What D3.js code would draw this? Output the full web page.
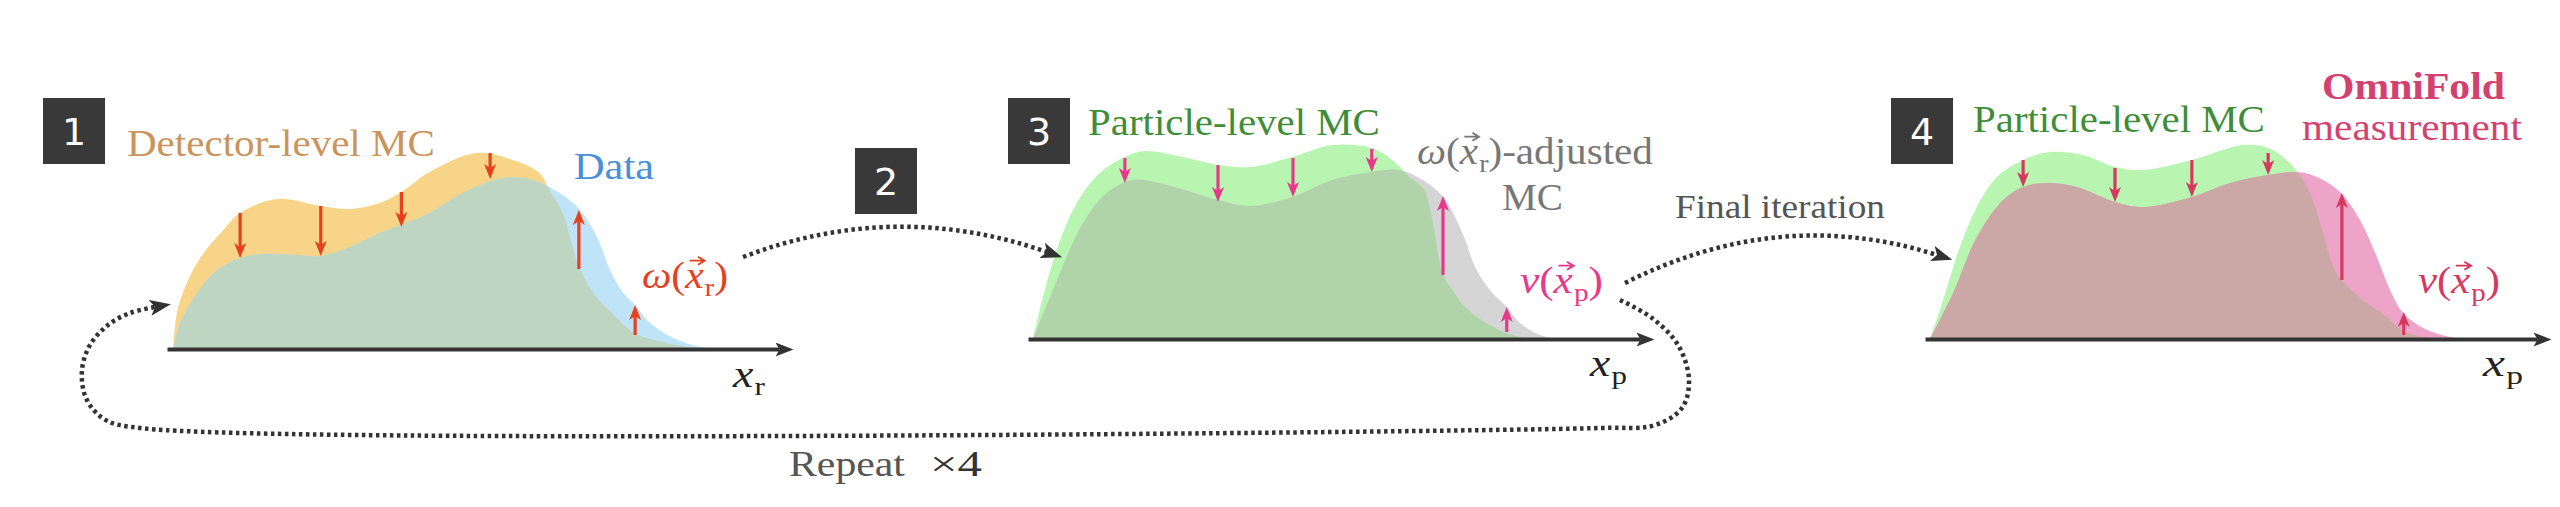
<!DOCTYPE html>
<html><head><meta charset="utf-8">
<script src="https://cdn.jsdelivr.net/npm/d3@7"></script>
<style>html,body{margin:0;padding:0;background:#fff;}svg{display:block;background:#fff}</style>
</head><body>
<svg id="c" width="2560" height="507"></svg>
<script>
// ---------------- DATA (x: 0..100 along each axis, y: 0..100 height) ----------------
// Panel 1: detector level
const detMcX   = [1.0, 1.8, 4.8, 9.0, 11.7, 17.6, 24.6, 29.2, 34.0, 37.5, 42.0, 49.5, 55.3, 59.6, 61.2, 63.3, 64.6, 65.8, 68.1, 71.2, 74.8, 79.9, 85.0];
const detMcY   = [0, 21, 43, 59.5, 68, 75, 71.5, 70, 73, 78.5, 88.5, 98, 94.5, 88, 79.5, 68, 54.5, 42, 28.5, 18, 8, 3, 0];
const dataX    = [1.0, 2.1, 4.8, 8.0, 11.7, 15.3, 20.8, 24.6, 29.2, 34.0, 37.5, 42.0, 47.3, 53.7, 58.5, 62.8, 66.1, 68.8, 70.9, 73.0, 74.9, 77.3, 81.0, 85.3, 88.5];
const dataY    = [0, 13, 28, 39.5, 45.5, 47.5, 47, 46.5, 51, 58, 62, 68, 78, 85.5, 84.5, 78, 69.5, 56, 39.5, 28, 22, 13, 5.5, 1, 0];
const omegaArrowX    = [11.7, 24.6, 37.5, 51.7, 65.9, 74.9];
const omegaArrowFrom = [68, 71.5, 78.5, 98, 40, 7];
const omegaArrowTo   = [45.5, 46.5, 61, 85, 69.5, 22];

// Panel 3: particle level, omega-adjusted
const partMcX  = [0.8, 2.4, 4.6, 7.8, 11.5, 15.5, 18.7, 24.8, 30.4, 35.5, 42.3, 48.7, 55.0, 58.3, 61.0, 63.4, 64.7, 66.3, 67.9, 70.1, 73.0, 76.5, 80.2];
const partMcY  = [0, 21, 44.5, 68, 83, 91, 94, 91, 87, 86, 91, 97, 95.5, 89.5, 81, 74.5, 59.5, 33, 24.5, 15.5, 8.5, 3, 0];
const adjMcX   = [0.8, 4.0, 8.8, 12.6, 16.8, 22.2, 30.4, 35.5, 42.3, 48.7, 55.0, 59.4, 62.6, 66.3, 69.5, 71.7, 74.3, 76.6, 78.7, 81.9, 84.6];
const adjMcY   = [0, 24.5, 58, 73, 79.5, 77, 69.5, 66.5, 71, 79.5, 83.5, 84.5, 80.5, 71.5, 53, 35, 23, 16, 8, 2, 0];
const nuArrowX    = [15.5, 30.4, 42.4, 55.0, 66.4, 76.6];
const nuArrowFrom = [90.5, 87, 90.5, 95, 32, 3.5];
const nuArrowTo   = [78, 68.5, 71, 83.5, 71.5, 16];

// Panel 4: particle level, final measurement
const partMc4X = [0.8, 2.9, 5.6, 8.3, 11.5, 15.7, 20.0, 25.3, 30.4, 34.9, 42.7, 50.9, 54.9, 57.9, 59.7, 61.6, 63.7, 65.3, 66.9, 70.1, 73.9, 76.5, 79.7, 82.4];
const partMc4Y = [0, 19.5, 46, 66, 81, 89.5, 93.5, 92, 86, 84.5, 89.5, 97, 95.5, 89.5, 83, 73, 53, 36, 28.5, 19.5, 11, 4, 1, 0];
const measX    = [0.8, 4.5, 8.3, 12.5, 15.7, 19.5, 24.3, 30.4, 34.9, 42.7, 48.8, 54.9, 59.5, 62.7, 66.4, 69.6, 72.3, 74.4, 76.5, 79.7, 84.0, 86.4];
const measY    = [0, 23, 51, 69.5, 76, 78, 76, 68.5, 66, 71, 78, 82, 83.5, 81, 73.5, 59.5, 41, 24.5, 13, 5.5, 1, 0];
const finalArrowX    = [15.7, 30.4, 42.7, 54.9, 66.7, 76.6];
const finalArrowFrom = [89.5, 85.5, 89.5, 93, 29.5, 2];
const finalArrowTo   = [76, 68.5, 71, 82, 73, 13.5];

// Text
const stepLabels = ['1', '2', '3', '4'];
const txtDetMC = 'Detector-level MC', txtData = 'Data', txtPartMC = 'Particle-level MC';
const txtFinal = 'Final iteration', txtRepeat = 'Repeat', txtTimes = '\u00d74';
const txtOmni = 'OmniFold', txtMeas = 'measurement';

// ---------------- DRAWING ----------------
const SERIF = '"Liberation Serif"';
const SANS = '"DejaVu Sans"';
const svg = d3.select('#c');
const defs = svg.append('defs');

function headMarker(id, color, len, half, notch) {
  defs.append('marker').attr('id', id).attr('markerUnits', 'userSpaceOnUse')
    .attr('viewBox', `0 ${-half} ${len} ${2 * half}`).attr('markerWidth', len).attr('markerHeight', 2 * half)
    .attr('refX', notch).attr('refY', 0).attr('orient', 'auto')
    .append('path').attr('d', `M0,${-half}L${len},0L0,${half}L${notch},0Z`).attr('fill', color);
}
headMarker('axHead', '#333', 18, 7, 4);
headMarker('dotHead', '#333', 21, 8, 5);

const smooth = d3.curveCatmullRom.alpha(0.5);

function panel(cfg) {
  const x = d3.scaleLinear().domain([0, 100]).range([cfg.x0, cfg.x0 + 625]);
  const y = d3.scaleLinear().domain([0, 100]).range([cfg.base, cfg.base - 200]);
  const area = d3.area().x(d => x(d[0])).y0(y(0)).y1(d => y(d[1])).curve(smooth);
  const A = d3.zip(cfg.aX, cfg.aY), B = d3.zip(cfg.bX, cfg.bY);
  const g = svg.append('g');
  g.append('path').attr('d', area(A)).attr('fill', cfg.colA);
  g.append('path').attr('d', area(B)).attr('fill', cfg.colB);
  defs.append('clipPath').attr('id', cfg.id).append('path').attr('d', area(A));
  g.append('path').attr('d', area(B)).attr('fill', cfg.colAB).attr('clip-path', `url(#${cfg.id})`);
  cfg.arX.forEach((ax, i) => {
    const px = x(ax), y1 = y(cfg.arFrom[i]), y2 = y(cfg.arTo[i]);
    const dir = y2 > y1 ? 1 : -1;
    g.append('line').attr('x1', px).attr('x2', px).attr('y1', y1).attr('y2', y2 - dir * 9)
      .attr('stroke', cfg.arCol).attr('stroke-width', 3.2);
    g.append('path').attr('d', `M${px},${y2}L${px - 6},${y2 - dir * 15}L${px},${y2 - dir * 11}L${px + 6},${y2 - dir * 15}Z`)
      .attr('fill', cfg.arCol);
  });
  const axScale = d3.scaleLinear().domain([0, 100]).range([cfg.x0, cfg.x0 + 612]);
  const axG = g.append('g').attr('transform', `translate(0,${cfg.base})`)
    .call(d3.axisBottom(axScale).tickValues([]).tickSizeOuter(0));
  axG.select('.domain').attr('stroke', '#333').attr('stroke-width', 4).attr('marker-end', 'url(#axHead)');
  return { x, y };
}

panel({ id: 'c1', x0: 167, base: 349, aX: detMcX, aY: detMcY, bX: dataX, bY: dataY,
  colA: '#f8d488', colB: '#bfe4f7', colAB: '#bdd5c1', arX: omegaArrowX, arFrom: omegaArrowFrom, arTo: omegaArrowTo, arCol: '#e5401f' });
panel({ id: 'c3', x0: 1028, base: 339, aX: partMcX, aY: partMcY, bX: adjMcX, bY: adjMcY,
  colA: '#b8f5b0', colB: '#d5d5d5', colAB: '#b1d3a9', arX: nuArrowX, arFrom: nuArrowFrom, arTo: nuArrowTo, arCol: '#e8388b' });
panel({ id: 'c4', x0: 1925, base: 339, aX: partMc4X, aY: partMc4Y, bX: measX, bY: measY,
  colA: '#b8f5b0', colB: '#eea3c9', colAB: '#cba8a5', arX: finalArrowX, arFrom: finalArrowFrom, arTo: finalArrowTo, arCol: '#d6395f' });

const boxPos = [[43, 98], [855, 148], [1008, 98], [1891, 98]];
stepLabels.forEach((s, i) => {
  const [bx, by] = boxPos[i];
  svg.append('rect').attr('x', bx).attr('y', by).attr('width', 62).attr('height', 66).attr('fill', '#393939');
  svg.append('text').attr('x', bx + 31).attr('y', by + 47).attr('text-anchor', 'middle')
    .style('font-family', SANS).style('font-size', '38px').attr('fill', '#fff').text(s);
});

// text built from pieces, each measured; the whole group is scaled horizontally to the target width
function mathLabel(x, y, fill, parts, w, size, bold) {
  size = size || 38;
  const g = svg.append('g').attr('fill', fill);
  let cx = x;
  parts.forEach(p => {
    const fs = p.sub ? size * 0.68 : size;
    const t = g.append('text').attr('x', cx).attr('y', p.sub ? y + 8 : y)
      .style('font-family', SERIF).style('font-size', fs + 'px');
    if (p.it) t.style('font-style', 'italic');
    if (bold) t.style('font-weight', 'bold');
    t.text(p.t);
    const tw = t.node().getComputedTextLength();
    if (p.vec) {
      const yv = y - size * 0.72, x1 = cx + tw * 0.25, x2 = cx + tw * 1.05;
      g.append('path').attr('d', `M${x1},${yv}H${x2}M${x2 - 6},${yv - 4}L${x2},${yv}L${x2 - 6},${yv + 4}`)
        .attr('stroke', fill).attr('stroke-width', 1.8).attr('fill', 'none');
    }
    cx += tw + (p.k || 0);
  });
  const k = w / (cx - x);
  g.attr('transform', `translate(${x},0) scale(${k},1) translate(${-x},0)`);
}
function label(x, y, t, fill, w, size, bold) { mathLabel(x, y, fill, [{ t: t }], w, size, bold); }

label(127, 156, txtDetMC, '#c9955c', 308);
label(574, 179, txtData, '#4a8fd8', 80);
label(1088, 135, txtPartMC, '#3f8d38', 292);
label(1502, 210, 'MC', '#777', 61);
label(1973, 132, txtPartMC, '#3f8d38', 292);
label(2322, 99, txtOmni, '#d4416f', 183, 37, true);
label(2302, 140, txtMeas, '#d4416f', 220);
label(1675, 218, txtFinal, '#555', 210, 33);
label(789, 476, txtRepeat, '#555', 116, 36);
label(930, 476, txtTimes, '#333', 52, 36);

const omegaParts = [{ t: '\u03c9', it: true }, { t: '(' }, { t: 'x', it: true, vec: true, k: 1 }, { t: 'r', sub: true }, { t: ')' }];
const nuParts = [{ t: '\u03bd', it: true }, { t: '(' }, { t: 'x', it: true, vec: true, k: 1 }, { t: 'p', sub: true }, { t: ')' }];
mathLabel(642, 288, '#e5401f', omegaParts, 86);
mathLabel(1417, 164, '#777', omegaParts.slice(0, 4).concat([{ t: ')-adjusted' }]), 236);
mathLabel(1520, 293, '#e8388b', nuParts, 83);
mathLabel(2418, 293, '#d6395f', nuParts, 82);
mathLabel(733, 387, '#222', [{ t: 'x', it: true, k: 1 }, { t: 'r', sub: true }], 32);
mathLabel(1590, 376, '#222', [{ t: 'x', it: true, k: 1 }, { t: 'p', sub: true }], 37);
mathLabel(2483, 376, '#222', [{ t: 'x', it: true, k: 1 }, { t: 'p', sub: true }], 40);

function dotted(d) {
  svg.append('path').attr('d', d).attr('fill', 'none').attr('stroke', '#333')
    .attr('stroke-width', 4.5).attr('stroke-dasharray', '3.5 3.5').attr('marker-end', 'url(#dotHead)');
}
const p1 = d3.path(); p1.moveTo(743, 257); p1.quadraticCurveTo(895, 199, 1047, 252); dotted(p1.toString());
const p2 = d3.path(); p2.moveTo(1625, 283); p2.quadraticCurveTo(1780, 205, 1937, 255); dotted(p2.toString());
const loopPts = [[1620, 300], [1652, 318], [1678, 345], [1689, 380], [1682, 408], [1655, 425], [1600, 428], [140, 428],
  [104, 419], [86, 398], [82, 370], [90, 345], [108, 325], [130, 313], [155, 307]];
dotted(d3.line().curve(d3.curveCatmullRom)(loopPts));
</script>
</body></html>
